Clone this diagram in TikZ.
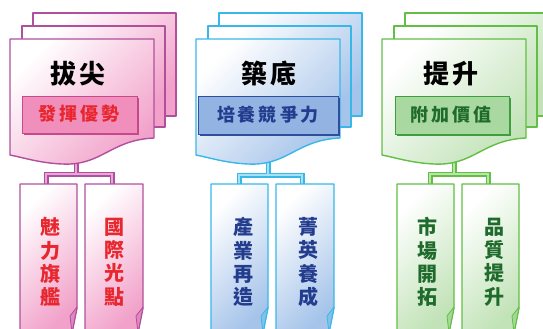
\documentclass[tikz,border=0pt]{standalone}
\usepackage{fontspec}
\setmainfont{Noto Sans CJK TC}
\definecolor{pinkB}{HTML}{B0509C}
\definecolor{pinkF}{HTML}{F2A2CA}
\definecolor{pinkS}{HTML}{F08EBC}
\definecolor{pinkSB}{HTML}{C8488C}
\definecolor{pinkT}{HTML}{E8262E}
\definecolor{pinkL}{HTML}{E6A8DC}
\definecolor{blueB}{HTML}{38B8E8}
\definecolor{blueF}{HTML}{A6C4EA}
\definecolor{blueS}{HTML}{93B3E3}
\definecolor{blueSB}{HTML}{2E4F9E}
\definecolor{blueT}{HTML}{233C8E}
\definecolor{blueL}{HTML}{A8E0F6}
\definecolor{greenB}{HTML}{62BE45}
\definecolor{greenF}{HTML}{C2E3B8}
\definecolor{greenS}{HTML}{A9D9A0}
\definecolor{greenSB}{HTML}{3C9E3C}
\definecolor{greenT}{HTML}{1F6B2C}
\definecolor{greenL}{HTML}{B8E6A8}
\tikzset{
  cardbox/.style={draw=#1B, line width=1.4pt, line join=round, left color=white, right color=#1F, shading angle=45},
  subbox/.style={draw=#1SB, line width=1pt, fill=#1S},
  titletext/.style={font=\fontsize{26}{28}\bfseries\selectfont, text=black},
  subtext/.style={font=\fontsize{18}{20}\bfseries\selectfont, text=#1T},
  vtext/.style={font=\fontsize{20}{23.3}\bfseries\selectfont, text=#1T, align=center},
  connouter/.style={line width=5pt, draw=#1B, line cap=rect},
  conninner/.style={line width=1.3pt, draw=#1L, line cap=rect}
}
\newcommand{\cardstack}[2]{%
  \path[cardbox=#2] (#1+23,13) rectangle (#1+166,116);
  \path[cardbox=#2] (#1+12,26) rectangle (#1+155,127);
  \path[cardbox=#2] (#1,39) -- (#1+144,39) -- (#1+144,138)
     .. controls (#1+100,140) and (#1+92,166) .. (#1+52,164)
     .. controls (#1+30,163) and (#1+15,158) .. (#1,155) -- cycle;
}
\newcommand{\lowcard}[3]{%
  \path[cardbox=#3] (#1,184) -- (#2,184) -- (#2,308) -- (#2-5,333) -- (#1,333) -- cycle;
  \path[draw=#3B, line width=0.8pt, line join=round, fill=#3F!70!#3B] (#2-7,316) -- (#2,307) -- (#2-5,333) -- cycle;
}
\begin{document}
\begin{tikzpicture}[x=1pt,y=-1pt]
\useasboundingbox (0,0) rectangle (543,329);
\clip (0,0) rectangle (543,329);
% connector points
\coordinate (pstem) at (76,150); \coordinate (pm) at (76,174);
\coordinate (pl) at (46,188); \coordinate (pr) at (112,188);
\coordinate (bstem) at (268,150); \coordinate (bm) at (268,175);
\coordinate (bl) at (239,188); \coordinate (br) at (302,188);
\coordinate (gstem) at (454,150); \coordinate (gm) at (454,174);
\coordinate (gl) at (430,188); \coordinate (gr) at (488,188);
\foreach \p/\c in {p/pink,b/blue,g/green}{
  \draw[connouter=\c] (\p l) |- (\p m) -| (\p r);
  \draw[connouter=\c] (\p stem) -- (\p m);
  \draw[conninner=\c] (\p l) |- (\p m) -| (\p r);
  \draw[conninner=\c] (\p stem) -- (\p m);
}
% pink group
\cardstack{10}{pink}
\path[fill=pinkSB] (24,98) rectangle (139,135);
\path[subbox=pink] (22,96) rectangle (137,133);
\node[titletext] (pt) at (78,74) {拔\hspace{3pt}尖};
\node[subtext=pink] (ps) at (79,114) {發\hspace{3pt}揮\hspace{3pt}優\hspace{3pt}勢};
\lowcard{20}{77}{pink}
\lowcard{85}{143}{pink}
\node[vtext=pink] (pa) at (50,262) {魅\\力\\旗\\艦};
\node[vtext=pink] (pb) at (114,262) {國\\際\\光\\點};
% blue group
\cardstack{196}{blue}
\path[fill=blueSB] (200,98) rectangle (340,136);
\path[subbox=blue] (198,96) rectangle (338,134);
\node[titletext] (bt) at (269,74) {築\hspace{3pt}底};
\node[subtext=blue] (bs) at (268,115) {培\hspace{3pt}養\hspace{3pt}競\hspace{3pt}爭\hspace{3pt}力};
\lowcard{211}{268}{blue}
\lowcard{276}{334}{blue}
\node[vtext=blue] (ba) at (243,262) {產\\業\\再\\造};
\node[vtext=blue] (bb) at (308,262) {菁\\英\\養\\成};
% green group
\cardstack{382}{green}
\path[fill=greenSB] (397,98) rectangle (511,136);
\path[subbox=green] (395,96) rectangle (509,134);
\node[titletext] (gt) at (451,74) {提\hspace{3pt}升};
\node[subtext=green] (gs) at (451,115) {附\hspace{3pt}加\hspace{3pt}價\hspace{3pt}值};
\lowcard{397}{454}{green}
\lowcard{462}{519}{green}
\node[vtext=green] (ga) at (427,262) {市\\場\\開\\拓};
\node[vtext=green] (gb) at (494,262) {品\\質\\提\\升};
\end{tikzpicture}
\end{document}
